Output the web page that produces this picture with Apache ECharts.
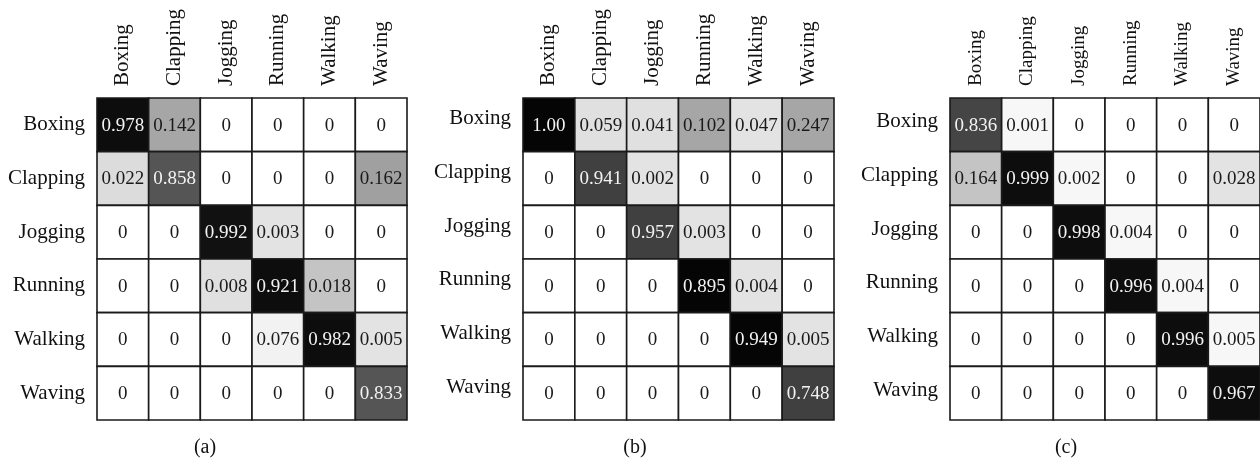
<!DOCTYPE html>
<html>
<head>
<meta charset="utf-8">
<script src="https://cdn.jsdelivr.net/npm/echarts@6/dist/echarts.min.js"></script>
<style>html,body{margin:0;padding:0;background:#fff}#c{width:1260px;height:461px}</style>
</head>
<body>
<div id="c"></div>
<script>
const categories = ['Boxing', 'Clapping', 'Jogging', 'Running', 'Walking', 'Waving'];
const captions = ['(a)', '(b)', '(c)'];

// rows = true class (top to bottom), columns = predicted (left to right)
const matrixA = [
  [0.978, 0.142, 0, 0, 0, 0],
  [0.022, 0.858, 0, 0, 0, 0.162],
  [0, 0, 0.992, 0.003, 0, 0],
  [0, 0, 0.008, 0.921, 0.018, 0],
  [0, 0, 0, 0.076, 0.982, 0.005],
  [0, 0, 0, 0, 0, 0.833]
];
const matrixB = [
  [1.00, 0.059, 0.041, 0.102, 0.047, 0.247],
  [0, 0.941, 0.002, 0, 0, 0],
  [0, 0, 0.957, 0.003, 0, 0],
  [0, 0, 0, 0.895, 0.004, 0],
  [0, 0, 0, 0, 0.949, 0.005],
  [0, 0, 0, 0, 0, 0.748]
];
const matrixC = [
  [0.836, 0.001, 0, 0, 0, 0],
  [0.164, 0.999, 0.002, 0, 0, 0.028],
  [0, 0, 0.998, 0.004, 0, 0],
  [0, 0, 0, 0.996, 0.004, 0],
  [0, 0, 0, 0, 0.996, 0.005],
  [0, 0, 0, 0, 0, 0.967]
];

// cell fill shades as drawn in the figure (style, not data)
const W = '#ffffff';
const shadesA = [
  ['#0d0d0d', '#a6a6a6', W, W, W, W],
  ['#dcdcdc', '#555555', W, W, W, '#a0a0a0'],
  [W, W, '#111111', '#e3e3e3', W, W],
  [W, W, '#e0e0e0', '#0d0d0d', '#c4c4c4', W],
  [W, W, W, '#f2f2f2', '#0d0d0d', '#e3e3e3'],
  [W, W, W, W, W, '#555555']
];
const shadesB = [
  ['#050505', '#e0e0e0', '#e0e0e0', '#a6a6a6', '#e3e3e3', '#a6a6a6'],
  [W, '#404040', '#e3e3e3', W, W, W],
  [W, W, '#404040', '#e3e3e3', W, W],
  [W, W, W, '#050505', '#e3e3e3', W],
  [W, W, W, W, '#050505', '#e3e3e3'],
  [W, W, W, W, W, '#404040']
];
const shadesC = [
  ['#454545', '#f7f7f7', W, W, W, W],
  ['#c4c4c4', '#0d0d0d', '#f7f7f7', W, W, '#e3e3e3'],
  [W, W, '#0d0d0d', '#f7f7f7', W, W],
  [W, W, W, '#0d0d0d', '#f7f7f7', W],
  [W, W, W, W, '#0d0d0d', '#f7f7f7'],
  [W, W, W, W, W, '#0d0d0d']
];

const matrices = [matrixA, matrixB, matrixC];
const shades = [shadesA, shadesB, shadesC];

const FONT = '"Liberation Serif", "DejaVu Serif", serif';
const gridPos = [
  {left: 97, top: 98, width: 310, height: 322},
  {left: 523, top: 98, width: 311, height: 322},
  {left: 950, top: 98, width: 310, height: 322}
];
const captionX = [205, 635, 1066];
// row-label vertical treatment per panel: [verticalAlign, lineHeight]
const rowAlign = [['middle', 21], ['bottom', 12], ['bottom', 6]];
const colFont = [21, 21, 19];

function fmt(v) {
  if (v === 0) return '0';
  if (v === 1) return '1.00';
  return v.toFixed(3);
}
function isDark(hex) {
  const n = parseInt(hex.slice(1, 3), 16);
  return n < 0x70;
}

const chart = echarts.init(document.getElementById('c'), null, {renderer: 'canvas'});
const grids = [], xAxes = [], yAxes = [], series = [], graphics = [];

matrices.forEach((m, k) => {
  grids.push(Object.assign({containLabel: false}, gridPos[k]));
  xAxes.push({
    type: 'category', gridIndex: k, data: categories, position: 'top',
    axisLine: {show: false}, axisTick: {show: false}, splitLine: {show: false},
    axisLabel: {rotate: -90, margin: 12, fontFamily: FONT, fontSize: colFont[k], color: '#111'}
  });
  yAxes.push({
    type: 'category', gridIndex: k, data: categories, inverse: true,
    axisLine: {show: false}, axisTick: {show: false}, splitLine: {show: false},
    axisLabel: {margin: 12, fontFamily: FONT, fontSize: 21, color: '#111',
      verticalAlign: rowAlign[k][0], lineHeight: rowAlign[k][1]}
  });
  const data = [];
  m.forEach((row, r) => row.forEach((v, c) => data.push([c, r, v])));
  const sh = shades[k];
  series.push({
    type: 'custom', xAxisIndex: k, yAxisIndex: k, data: data, silent: true,
    renderItem: function (params, api) {
      const c = api.value(0), r = api.value(1), v = api.value(2);
      const p = api.coord([c, r]);
      const s = api.size([1, 1]);
      const fill = sh[r][c];
      return {
        type: 'group',
        children: [
          {type: 'rect', shape: {x: p[0] - s[0] / 2, y: p[1] - s[1] / 2, width: s[0], height: s[1]},
           style: {fill: fill, stroke: '#1a1a1a', lineWidth: 1.6}},
          {type: 'text', style: {text: fmt(v), x: p[0], y: p[1] + 1, align: 'center', verticalAlign: 'middle',
            fill: isDark(fill) ? '#f2f2f2' : '#1a1a1a', font: '19px ' + FONT}}
        ]
      };
    }
  });
  graphics.push({
    type: 'text', x: captionX[k], y: 448,
    style: {text: captions[k], font: '20px ' + FONT, fill: '#111', align: 'center', verticalAlign: 'middle'}
  });
});

chart.setOption({
  animation: false,
  grid: grids, xAxis: xAxes, yAxis: yAxes, series: series, graphic: graphics
});
</script>
</body>
</html>
